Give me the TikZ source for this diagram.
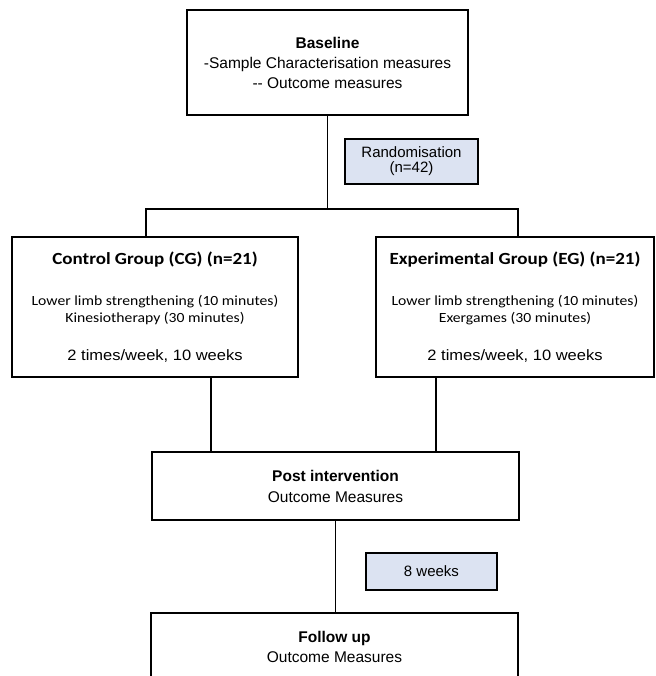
\documentclass[tikz,border=0pt]{standalone}
\usepackage{fontspec}
\setmainfont{Liberation Sans}
\newfontfamily\calibri[FakeStretch=1.12]{Carlito}
\newfontfamily\widearial[FakeStretch=1.1]{Liberation Sans}
\usetikzlibrary{positioning}
\definecolor{randblue}{HTML}{DCE3F2}

\begin{document}
\begin{tikzpicture}[x=1pt,y=-1pt,on grid,
    box/.style={draw,line width=1.9pt,align=center,inner sep=0pt,
        font=\fontsize{15.5}{20}\selectfont},
    group/.style={box,minimum width=#1,minimum height=140pt,
        font=\calibri\fontsize{14}{16.5}\selectfont},
    note/.style={box,fill=randblue,font=\fontsize{15}{15}\selectfont},
    link/.style={line width=1.9pt}]
    \useasboundingbox (0,0) rectangle (655,676);
    \clip (0,0) rectangle (655,676);

    \node[box,minimum width=281pt,minimum height=105pt] (base) at (327.5,62.5)
        {\textbf{Baseline}\\-Sample Characterisation measures\\-{}- Outcome measures};
    \node[note,minimum width=133pt,minimum height=45pt] (rand) [below right=99pt and 84pt of base]
        {Randomisation\\(n=42)};
    \node[group=286pt] (cg) [below left=244.5pt and 172.5pt of base]
        {{\fontsize{17}{19}\selectfont\bfseries Control Group (CG) (n=21)}\\[25pt]
         Lower limb strengthening (10 minutes)\\Kinesiotherapy (30 minutes)\\[22pt]
         {\widearial\fontsize{15}{17}\selectfont 2 times/week, 10 weeks}};
    \node[group=278pt] (eg) [right=360pt of cg]
        {{\fontsize{17}{19}\selectfont\bfseries Experimental Group (EG) (n=21)}\\[25pt]
         Lower limb strengthening (10 minutes)\\Exergames (30 minutes)\\[22pt]
         {\widearial\fontsize{15}{17}\selectfont 2 times/week, 10 weeks}};
    \node[box,minimum width=367pt,minimum height=68pt,font=\fontsize{15.5}{21}\selectfont] (post)
        [below right=179pt and 180.5pt of cg]
        {\textbf{Post intervention}\\Outcome Measures};
    \node[note,minimum width=131pt,minimum height=37pt] (weeks) [below right=85.5pt and 96pt of post]
        {8 weeks};
    \node[box,minimum width=367pt,minimum height=68pt,font=\fontsize{15.5}{20}\selectfont] (follow)
        [below left=161pt and 1pt of post]
        {\textbf{Follow up}\\Outcome Measures};

    \coordinate[below=146.5pt of base] (split);
    \coordinate (cgtop) at ([xshift=-9pt]cg.north);
    \coordinate (egtop) at ([xshift=3pt]eg.north);
    \coordinate (cgfoot) at ([xshift=56pt]cg.south);
    \coordinate (egfoot) at ([xshift=-79pt]eg.south);

    \draw[link] (base) -- (split);
    \draw[link] (cgtop) |- (split) -| (egtop);
    \draw[link] (cgfoot) -- (cgfoot |- post.north);
    \draw[link] (egfoot) -- (egfoot |- post.north);
    \draw[link] (post.south) -- (post.south |- follow.north);
\end{tikzpicture}
\end{document}
